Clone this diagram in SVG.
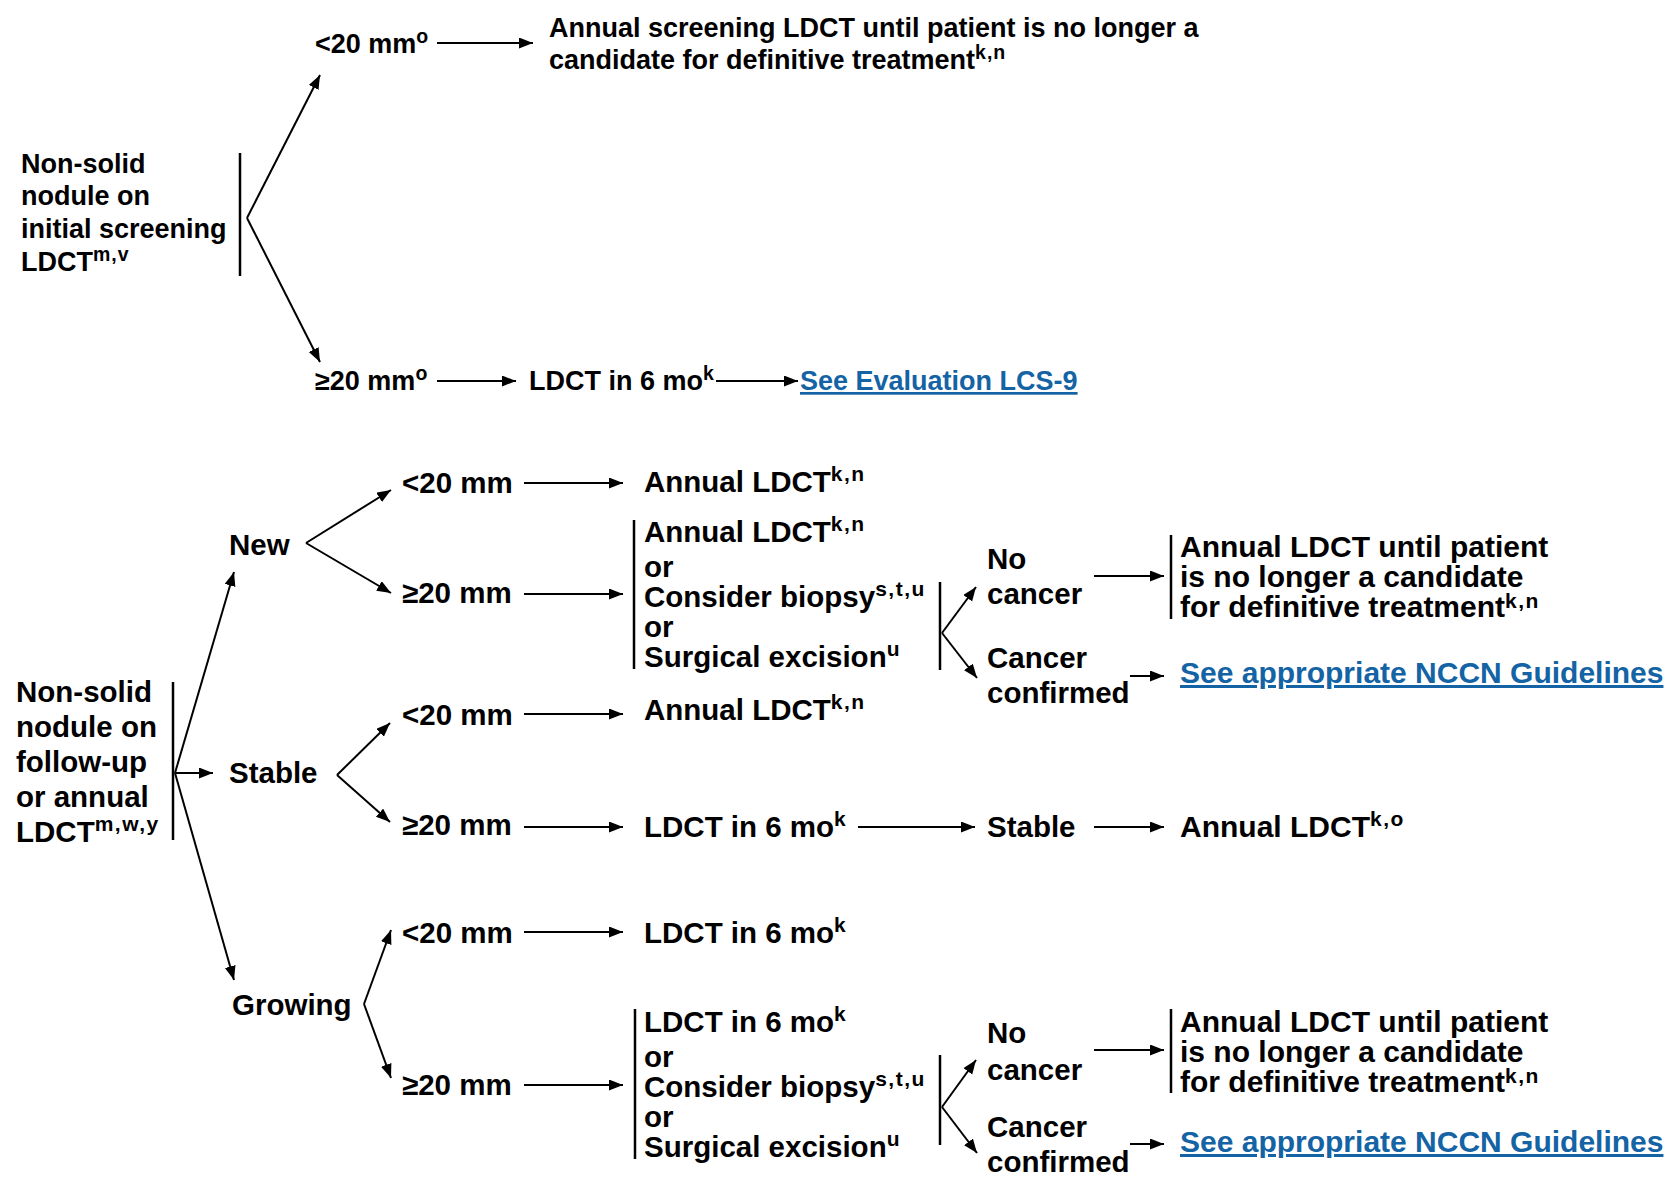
<svg xmlns="http://www.w3.org/2000/svg" width="1672" height="1181" viewBox="0 0 1672 1181">
<style>
  text { font-family: "Liberation Sans", Arial, sans-serif; font-weight: bold; fill: #000; }
  .a { font-size: 27px; }
  .b { font-size: 29.5px; }
  .r { font-size: 30px; }
  .sa { font-size: 19.5px; letter-spacing: 1px; }
  .sb { font-size: 21px; letter-spacing: 1.5px; }
  .link { fill: #1463a5; text-decoration: underline; }
  .bar { stroke: #000; stroke-width: 2.5; fill: none; }
  .c { stroke: #000; stroke-width: 2; fill: none; }
  .arr { marker-end: url(#ah); }
</style>
<defs>
  <marker id="ah" markerWidth="15" markerHeight="12" refX="14" refY="5.5" orient="auto" markerUnits="userSpaceOnUse">
    <path d="M0,0 L14,5.5 L0,11 z" fill="#000"/>
  </marker>
</defs>
<rect width="1672" height="1181" fill="#fff"/>

<!-- ===== TOP SECTION ===== -->
<g id="init-nodule">
  <text class="a" x="21" y="173">Non-solid</text>
  <text class="a" x="21" y="205">nodule on</text>
  <text class="a" x="21" y="238">initial screening</text>
  <text class="a" x="21" y="271">LDCT<tspan class="sa" dy="-10">m,v</tspan></text>
  <line class="bar" x1="240" y1="153" x2="240" y2="276"/>
</g>
<g id="init-lt20">
  <text class="a" x="315" y="53">&lt;20 mm<tspan class="sa" dy="-10">o</tspan></text>
</g>
<g id="init-annual">
  <text class="a" x="549" y="37">Annual screening LDCT until patient is no longer a</text>
  <text class="a" x="549" y="69">candidate for definitive treatment<tspan class="sa" dy="-10">k,n</tspan></text>
</g>
<g id="init-ge20">
  <text class="a" x="315" y="390">≥20 mm<tspan class="sa" dy="-10">o</tspan></text>
</g>
<g id="init-ldct6">
  <text class="a" x="529" y="390">LDCT in 6 mo<tspan class="sa" dy="-10">k</tspan></text>
</g>
<g id="init-lcs9">
  <text class="a link" x="800" y="390">See Evaluation LCS-9</text>
</g>

<!-- ===== BOTTOM SECTION ===== -->
<g id="fu-nodule">
  <text class="b" x="16" y="702">Non-solid</text>
  <text class="b" x="16" y="737">nodule on</text>
  <text class="b" x="16" y="772">follow-up</text>
  <text class="b" x="16" y="807">or annual</text>
  <text class="b" x="16" y="842">LDCT<tspan class="sb" dy="-11">m,w,y</tspan></text>
  <line class="bar" x1="173" y1="682" x2="173" y2="840"/>
</g>

<g id="new"><text class="b" x="229" y="555">New</text></g>
<g id="new-lt20"><text class="b" x="402" y="493">&lt;20 mm</text></g>
<g id="new-lt20-annual"><text class="b" x="644" y="492">Annual LDCT<tspan class="sb" dy="-11">k,n</tspan></text></g>
<g id="new-ge20"><text class="b" x="402" y="603">≥20 mm</text></g>
<g id="new-ge20-options">
  <line class="bar" x1="634" y1="520" x2="634" y2="669"/>
  <text class="b" x="644" y="542">Annual LDCT<tspan class="sb" dy="-11">k,n</tspan></text>
  <text class="b" x="644" y="577">or</text>
  <text class="b" x="644" y="607">Consider biopsy<tspan class="sb" dy="-11">s,t,u</tspan></text>
  <text class="b" x="644" y="637">or</text>
  <text class="b" x="644" y="667">Surgical excision<tspan class="sb" dy="-11">u</tspan></text>
  <line class="bar" x1="940" y1="582" x2="940" y2="670"/>
</g>
<g id="new-nocancer">
  <text class="b" x="987" y="569">No</text>
  <text class="b" x="987" y="604">cancer</text>
</g>
<g id="new-cancer">
  <text class="b" x="987" y="668">Cancer</text>
  <text class="b" x="987" y="703">confirmed</text>
</g>
<g id="new-annual-until">
  <line class="bar" x1="1171" y1="535" x2="1171" y2="619"/>
  <text class="r" x="1180" y="557">Annual LDCT until patient</text>
  <text class="r" x="1180" y="587">is no longer a candidate</text>
  <text class="r" x="1180" y="617">for definitive treatment<tspan class="sb" dy="-9">k,n</tspan></text>
</g>
<g id="new-nccn"><text class="r link" x="1180" y="683">See appropriate NCCN Guidelines</text></g>

<g id="stable"><text class="b" x="229" y="783">Stable</text></g>
<g id="stable-lt20"><text class="b" x="402" y="725">&lt;20 mm</text></g>
<g id="stable-lt20-annual"><text class="b" x="644" y="720">Annual LDCT<tspan class="sb" dy="-11">k,n</tspan></text></g>
<g id="stable-ge20"><text class="b" x="402" y="835">≥20 mm</text></g>
<g id="stable-ge20-ldct6"><text class="b" x="644" y="837">LDCT in 6 mo<tspan class="sb" dy="-11">k</tspan></text></g>
<g id="stable-stable"><text class="b" x="987" y="837">Stable</text></g>
<g id="stable-annual"><text class="r" x="1180" y="837">Annual LDCT<tspan class="sb" dy="-11">k,o</tspan></text></g>

<g id="growing"><text class="b" x="232" y="1015">Growing</text></g>
<g id="grow-lt20"><text class="b" x="402" y="943">&lt;20 mm</text></g>
<g id="grow-lt20-ldct6"><text class="b" x="644" y="943">LDCT in 6 mo<tspan class="sb" dy="-11">k</tspan></text></g>
<g id="grow-ge20"><text class="b" x="402" y="1095">≥20 mm</text></g>
<g id="grow-ge20-options">
  <line class="bar" x1="635" y1="1009" x2="635" y2="1159"/>
  <text class="b" x="644" y="1032">LDCT in 6 mo<tspan class="sb" dy="-11">k</tspan></text>
  <text class="b" x="644" y="1067">or</text>
  <text class="b" x="644" y="1097">Consider biopsy<tspan class="sb" dy="-11">s,t,u</tspan></text>
  <text class="b" x="644" y="1127">or</text>
  <text class="b" x="644" y="1157">Surgical excision<tspan class="sb" dy="-11">u</tspan></text>
  <line class="bar" x1="940" y1="1055" x2="940" y2="1145"/>
</g>
<g id="grow-nocancer">
  <text class="b" x="987" y="1043">No</text>
  <text class="b" x="987" y="1080">cancer</text>
</g>
<g id="grow-cancer">
  <text class="b" x="987" y="1137">Cancer</text>
  <text class="b" x="987" y="1172">confirmed</text>
</g>
<g id="grow-annual-until">
  <line class="bar" x1="1171" y1="1009" x2="1171" y2="1093"/>
  <text class="r" x="1180" y="1032">Annual LDCT until patient</text>
  <text class="r" x="1180" y="1062">is no longer a candidate</text>
  <text class="r" x="1180" y="1092">for definitive treatment<tspan class="sb" dy="-9">k,n</tspan></text>
</g>
<g id="grow-nccn"><text class="r link" x="1180" y="1152">See appropriate NCCN Guidelines</text></g>

<!-- ===== CONNECTORS ===== -->
<g id="connectors">
  <!-- top -->
  <line class="c arr" x1="247" y1="218" x2="320" y2="75"/>
  <line class="c arr" x1="247" y1="218" x2="320" y2="362"/>
  <line class="c arr" x1="437" y1="43" x2="533" y2="43"/>
  <line class="c arr" x1="437" y1="381" x2="516" y2="381"/>
  <line class="c arr" x1="716" y1="381" x2="798" y2="381"/>

  <!-- follow-up fan -->
  <line class="c arr" x1="175" y1="773" x2="234" y2="572"/>
  <line class="c arr" x1="175" y1="773" x2="213" y2="773"/>
  <line class="c arr" x1="175" y1="773" x2="234" y2="980"/>

  <!-- new -->
  <line class="c arr" x1="306" y1="543" x2="391" y2="490"/>
  <line class="c arr" x1="306" y1="543" x2="391" y2="593"/>
  <line class="c arr" x1="524" y1="483" x2="623" y2="483"/>
  <line class="c arr" x1="524" y1="594" x2="623" y2="594"/>
  <line class="c arr" x1="942" y1="633" x2="976" y2="587"/>
  <line class="c arr" x1="942" y1="633" x2="977" y2="678"/>
  <line class="c arr" x1="1094" y1="576" x2="1164" y2="576"/>
  <line class="c arr" x1="1130" y1="676" x2="1164" y2="676"/>

  <!-- stable -->
  <line class="c arr" x1="337" y1="775" x2="390" y2="723"/>
  <line class="c arr" x1="337" y1="775" x2="390" y2="822"/>
  <line class="c arr" x1="524" y1="714" x2="623" y2="714"/>
  <line class="c arr" x1="524" y1="827" x2="623" y2="827"/>
  <line class="c arr" x1="858" y1="827" x2="975" y2="827"/>
  <line class="c arr" x1="1094" y1="827" x2="1164" y2="827"/>

  <!-- growing -->
  <line class="c arr" x1="364" y1="1004" x2="391" y2="930"/>
  <line class="c arr" x1="364" y1="1004" x2="391" y2="1078"/>
  <line class="c arr" x1="524" y1="932" x2="623" y2="932"/>
  <line class="c arr" x1="524" y1="1085" x2="623" y2="1085"/>
  <line class="c arr" x1="942" y1="1107" x2="976" y2="1060"/>
  <line class="c arr" x1="942" y1="1107" x2="977" y2="1153"/>
  <line class="c arr" x1="1094" y1="1050" x2="1164" y2="1050"/>
  <line class="c arr" x1="1130" y1="1144" x2="1164" y2="1144"/>
</g>
</svg>
